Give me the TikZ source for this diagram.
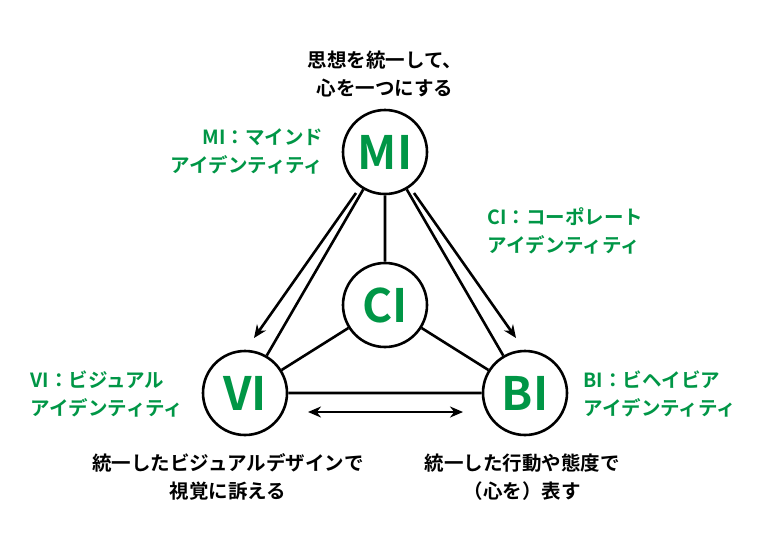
\documentclass[tikz,border=0pt]{standalone}
\usepackage{fontspec}
\setmainfont{Noto Sans CJK JP Bold}
\usetikzlibrary{arrows.meta}
\definecolor{grn}{RGB}{0,150,70}
\begin{document}
\begin{tikzpicture}[x=1pt,y=-1pt,
 circ/.style={circle,draw,line width=2.6pt,minimum size=84pt,inner sep=0pt,text=grn,font=\fontsize{46}{46}\selectfont},
 lbl/.style={font=\fontsize{19.5}{28}\selectfont,align=center},
 glbl/.style={lbl,text=grn},
 ln/.style={line width=2.6pt},
 arr/.style={line width=2.6pt,-{Stealth[length=13pt,width=11pt]}}]
\useasboundingbox (0,0) rectangle (768,542);
\node[circ] (MI) at (385,152) {MI};
\node[circ] (CI) at (385,305) {CI};
\node[circ] (VI) at (245,393) {VI};
\node[circ] (BI) at (525,393) {BI};
\draw[ln] (MI)--(CI) (MI)--(VI) (MI)--(BI) (VI)--(BI) (CI)--(VI) (CI)--(BI);
\coordinate (a1) at (356,193); \coordinate (a2) at (254,338);
\coordinate (b1) at (414,193); \coordinate (b2) at (516,338);
\coordinate (c1) at (308,412); \coordinate (c2) at (463,412);
\draw[arr] (a1)--(a2);
\draw[arr] (b1)--(b2);
\draw[line width=2.6pt,{Stealth[length=13pt,width=11pt]}-{Stealth[length=13pt,width=11pt]}] (c1)--(c2);
\node[lbl] (t1) at (385,74) {思想を統一して、\\心を一つにする};
\node[glbl,anchor=east,align=right] (t2) at (327,151) {MI：マインド\\アイデンティティ};
\node[glbl,anchor=west,align=left] (t3) at (484,231) {CI：コーポレート\\アイデンティティ};
\node[glbl,anchor=east,align=left] (t4) at (187,394) {VI：ビジュアル\\アイデンティティ};
\node[glbl,anchor=west,align=left] (t5) at (580,394) {BI：ビヘイビア\\アイデンティティ};
\node[lbl] (t6) at (228,477) {統一したビジュアルデザインで\\視覚に訴える};
\node[lbl] (t7) at (522,477) {統一した行動や態度で\\（心を）表す};
\end{tikzpicture}
\end{document}
